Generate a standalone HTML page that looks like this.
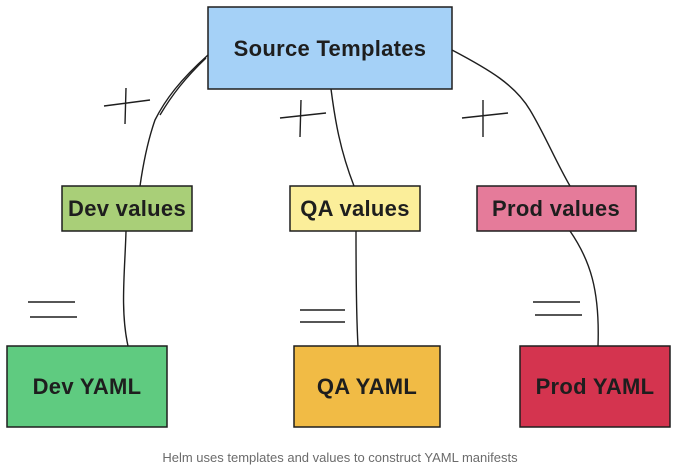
<!DOCTYPE html>
<html><head><style>
body{margin:0;background:#fff;width:680px;height:467px;overflow:hidden;}
</style></head><body>
<svg width="680" height="467" viewBox="0 0 680 467" xmlns="http://www.w3.org/2000/svg" font-family="'Liberation Sans',sans-serif">
<g stroke="#1e1e1e" stroke-width="1.4" fill="none">
<path d="M208 55 C180 80 165 100 155 120 C148 140 143 165 140 186"/>
<path d="M206 58 C185 78 172 95 160 115"/>
<path d="M331 89 C335 120 340 150 354 186"/>
<path d="M452 50 C490 70 515 85 530 110 C545 135 555 160 570 186"/>
<path d="M126 231 C125 270 120 310 128 346"/>
<path d="M356 231 C356 270 356 310 358 346"/>
<path d="M570 231 C590 260 600 290 598 346"/>
<path d="M104 106 L150 100 M126 88 L125 124"/>
<path d="M280 118 L326 113 M301 100 L300 137"/>
<path d="M462 118 L508 113 M483 100 L483 137"/>
<path d="M28 302 L75 302 M30 317 L77 317"/>
<path d="M300 310 L345 310 M300 322 L345 322"/>
<path d="M533 302 L580 302 M535 315 L582 315"/>
</g>
<g stroke="#1e1e1e" stroke-width="1.5">
<rect x="208" y="7" width="244" height="82" fill="#a5d1f7"/>
<rect x="62" y="186" width="130" height="45" fill="#a9cf78"/>
<rect x="290" y="186" width="130" height="45" fill="#fbee9a"/>
<rect x="477" y="186" width="159" height="45" fill="#e57b9a"/>
<rect x="7" y="346" width="160" height="81" fill="#5fcb80"/>
<rect x="294" y="346" width="146" height="81" fill="#f1bb45"/>
<rect x="520" y="346" width="150" height="81" fill="#d4344f"/>
</g>
<g fill="#1e1e1e" font-size="22" text-anchor="middle" font-weight="bold" letter-spacing="0.3">
<text x="330" y="56">Source Templates</text>
<text x="127" y="216">Dev values</text>
<text x="355" y="216">QA values</text>
<text x="556" y="216">Prod values</text>
<text x="87" y="394">Dev YAML</text>
<text x="367" y="394">QA YAML</text>
<text x="595" y="394">Prod YAML</text>
</g>
<text x="340" y="462" text-anchor="middle" font-size="13" fill="#6b6b6b">Helm uses templates and values to construct YAML manifests</text>
</svg>
</body></html>
